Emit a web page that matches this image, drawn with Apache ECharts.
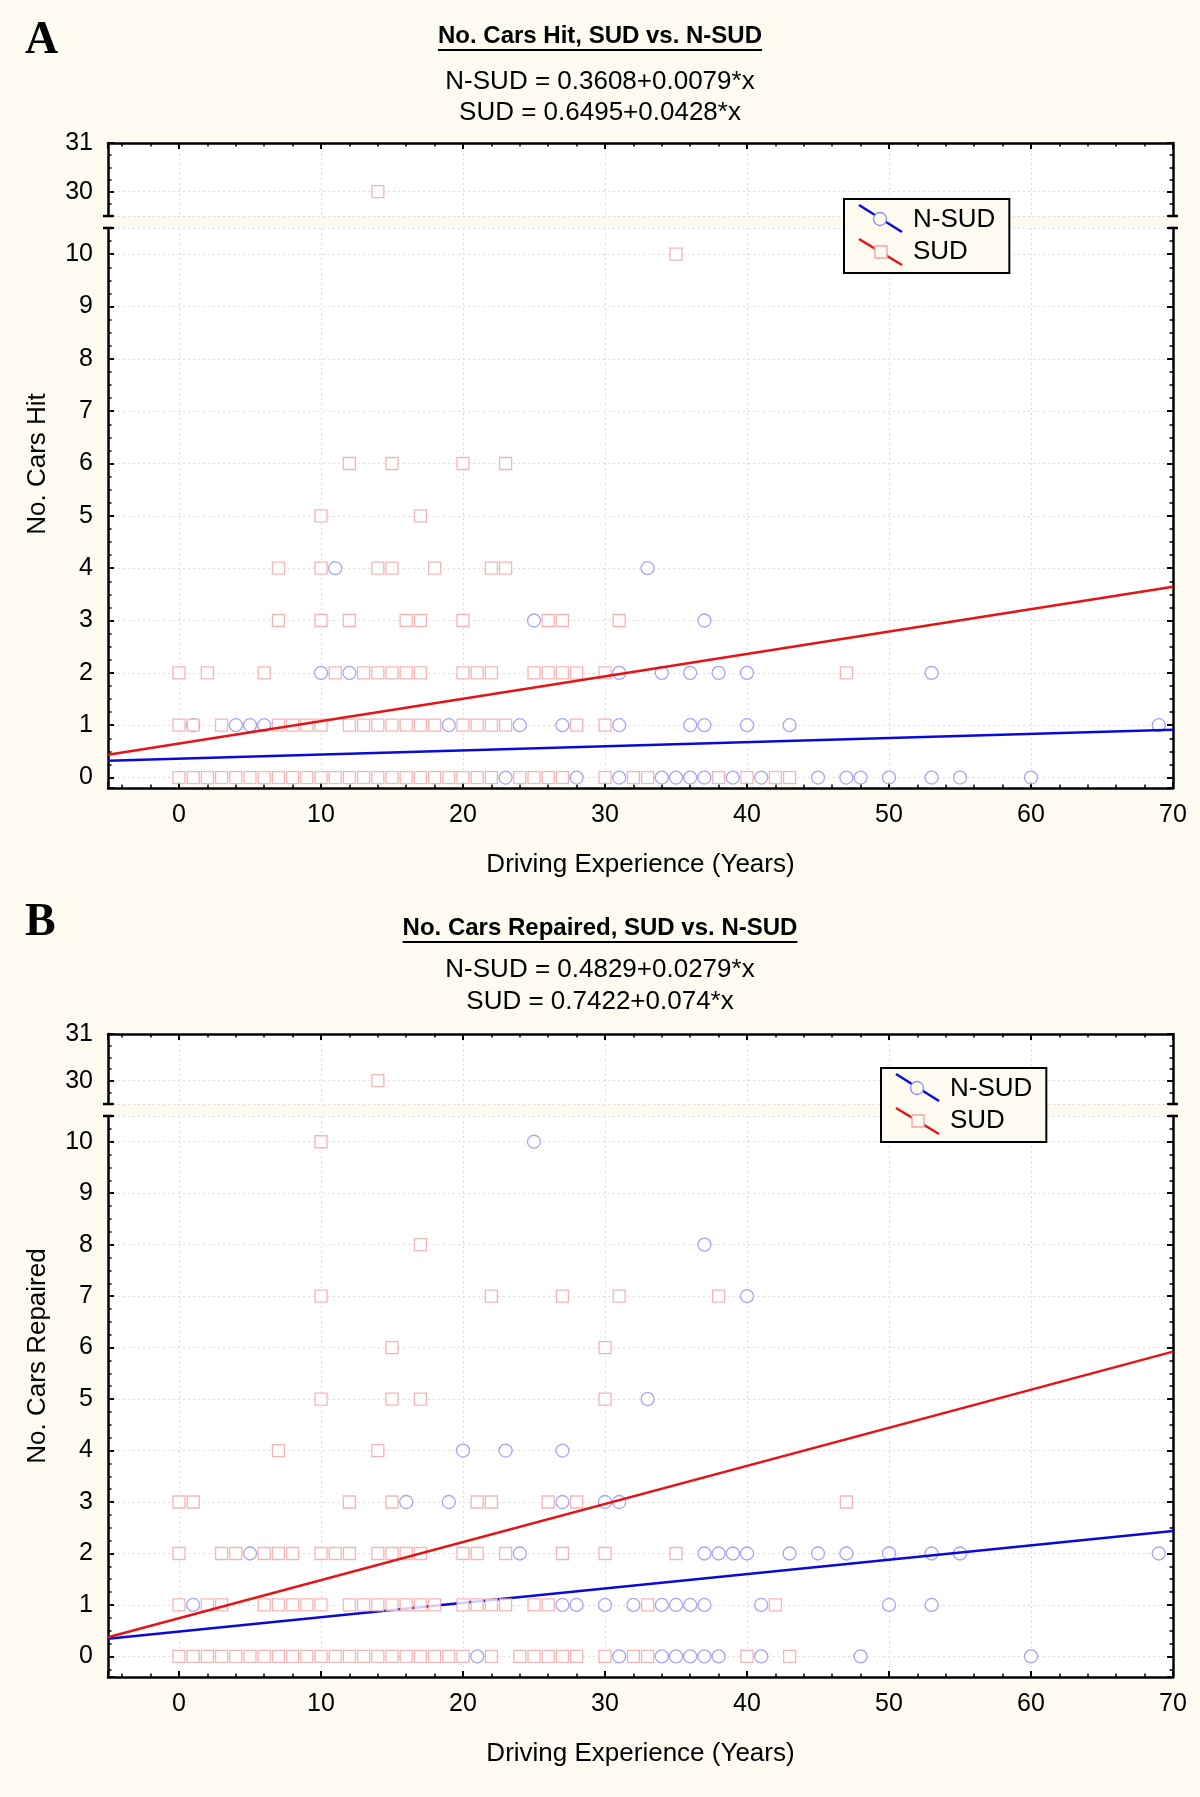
<!DOCTYPE html>
<html><head><meta charset="utf-8">
<script src="https://cdn.jsdelivr.net/npm/echarts@6/dist/echarts.min.js"></script>
<style>html,body{margin:0;padding:0;background:#fdfaf0}#chart{width:1200px;height:1797px}</style>
</head><body><div id="chart"></div>
<script>
// ================= DATA =================
const panelLetters = ['A', 'B'];
const panelTitles = ['No. Cars Hit, SUD vs. N-SUD', 'No. Cars Repaired, SUD vs. N-SUD'];
const yTitles = ['No. Cars Hit', 'No. Cars Repaired'];
const xTitle = 'Driving Experience (Years)';
const seriesNames = ['N-SUD', 'SUD'];
const hitEquations = ['N-SUD = 0.3608+0.0079*x', 'SUD = 0.6495+0.0428*x'];
const repEquations = ['N-SUD = 0.4829+0.0279*x', 'SUD = 0.7422+0.074*x'];
// regression coefficients [intercept, slope]
const hitFitNSUD = [0.3608, 0.0079];
const hitFitSUD = [0.6495, 0.0428];
const repFitNSUD = [0.4829, 0.0279];
const repFitSUD = [0.7422, 0.074];
const xRange = [-5, 70];

// rows: [y value, [driving experience years...]]
const hitSUD = [
  [0, [0,1,2,3,4,5,6,7,8,9,10,11,12,13,14,15,16,17,18,19,20,21,22,24,25,26,27,30,32,33,38,40,42,43]],
  [1, [0,1,3,7,8,9,10,12,13,14,15,16,17,18,20,21,22,23,28,30]],
  [2, [0,2,6,11,13,14,15,16,17,20,21,22,25,26,27,28,30,47]],
  [3, [7,10,12,16,17,20,26,27,31]],
  [4, [7,10,14,15,18,22,23]],
  [5, [10,17]],
  [6, [12,15,20,23]],
  [10, [35]],
  [30, [14]]
];
const hitNSUD = [
  [0, [23,28,31,34,35,36,37,39,41,45,47,48,50,53,55,60]],
  [1, [1,4,5,6,19,24,27,31,36,37,40,43,69]],
  [2, [10,12,31,34,36,38,40,53]],
  [3, [25,37]],
  [4, [11,33]]
];
const repSUD = [
  [0, [0,1,2,3,4,5,6,7,8,9,10,11,12,13,14,15,16,17,18,19,20,22,24,25,26,27,28,30,32,33,40,43]],
  [1, [0,2,3,6,7,8,9,10,12,13,14,15,16,17,18,20,21,22,23,25,26,33,42]],
  [2, [0,3,4,6,7,8,10,11,12,14,15,16,17,20,21,23,27,30,35]],
  [3, [0,1,12,15,21,22,26,28,47]],
  [4, [7,14]],
  [5, [10,15,17,30]],
  [6, [15,30]],
  [7, [10,22,27,31,38]],
  [8, [17]],
  [10, [10]],
  [30, [14]]
];
const repNSUD = [
  [0, [21,31,34,35,36,37,38,41,48,60]],
  [1, [1,27,28,30,32,34,35,36,37,41,50,53]],
  [2, [5,24,37,38,39,40,43,45,47,50,53,55,69]],
  [3, [16,19,27,30,31]],
  [4, [20,23,27]],
  [5, [33]],
  [7, [40]],
  [8, [37]],
  [10, [25]]
];

// ================= LAYOUT / STYLE =================
const CREAM = '#fdfaf0';
const FONT = "'Liberation Sans', Arial, sans-serif";
const BLUE = '#0a0ad8', RED = '#e41414';
const SQ = '#f0a4a4', CI = '#8e8ef0';
const TICK_FS = 25, TEXT_FS = 26;

const layouts = [
  {letterY: 41, titleY: 38, eqY: [84, 115], upperTop: 143, upperH: 73, lowerTop: 228, lowerH: 560, lowerMin: -0.2, yTitleY: 464, legend: [844, 199]},
  {letterY: 923, titleY: 930, eqY: [972, 1004], upperTop: 1034, upperH: 70, lowerTop: 1116, lowerH: 561, lowerMin: -0.4, yTitleY: 1356, legend: [881, 1068]}
];
const panelData = [
  {sud: hitSUD, nsud: hitNSUD, fitS: hitFitSUD, fitN: hitFitNSUD, eq: hitEquations},
  {sud: repSUD, nsud: repNSUD, fitS: repFitSUD, fitN: repFitNSUD, eq: repEquations}
];

const expand = rows => rows.flatMap(([y, xs]) => xs.map(x => [x, y]));
const fitLine = c => [[xRange[0], c[0] + c[1] * xRange[0]], [xRange[1], c[0] + c[1] * xRange[1]]];

const measure = (() => {
  const ctx = document.createElement('canvas').getContext('2d');
  return (txt, font) => { ctx.font = font; return ctx.measureText(txt).width; };
})();

const GRID_LEFT = 108, GRID_RIGHT = 27;
const axisLine = (sym) => ({show: true, onZero: false, symbol: sym, symbolSize: [10, 2.5], lineStyle: {color: '#000', width: 2.5}});
const tick = {show: true, inside: true, length: 6, lineStyle: {color: '#000', width: 2}};
const splitDot = {show: true, lineStyle: {color: '#dcdcdc', width: 1, type: [2, 3]}};

const grids = [], xAxes = [], yAxes = [], series = [], titles = [], graphics = [], legends = [];

layouts.forEach((L, p) => {
  const D = panelData[p];
  const gU = grids.length, gL = gU + 1;
  grids.push({left: GRID_LEFT, right: GRID_RIGHT, top: L.upperTop, height: L.upperH, show: true, backgroundColor: '#fff', borderWidth: 0, outerBoundsMode: 'none'});
  grids.push({left: GRID_LEFT, right: GRID_RIGHT, top: L.lowerTop, height: L.lowerH, show: true, backgroundColor: '#fff', borderWidth: 0, outerBoundsMode: 'none'});

  const xU = xAxes.length, xL = xU + 1;
  const xCommon = {type: 'value', min: xRange[0], max: xRange[1], minInterval: 10, maxInterval: 10, splitNumber: 8,
    axisTick: tick, minorTick: {show: true, splitNumber: 5, length: 3.5, lineStyle: {color: '#000', width: 1.5}}, splitLine: splitDot};
  xAxes.push(Object.assign({}, xCommon, {gridIndex: gU, position: 'top', axisLine: axisLine(['none', 'none']), axisLabel: {show: false}}));
  xAxes.push(Object.assign({}, xCommon, {gridIndex: gL, position: 'bottom', axisLine: axisLine(['none', 'none']),
    axisLabel: {show: true, margin: 15, fontSize: TICK_FS, color: '#000', fontFamily: FONT, showMinLabel: false, showMaxLabel: true},
    name: xTitle, nameLocation: 'middle', nameGap: 64, nameTextStyle: {fontSize: TEXT_FS, color: '#000', fontFamily: FONT}}));

  const yIdx = yAxes.length;
  const yAx = (grid, min, max, pos, isUpper) => ({
    type: 'value', gridIndex: grid, min, max, position: pos, minInterval: 1, maxInterval: 1, splitNumber: 10,
    axisLine: axisLine(isUpper ? ['rect', 'none'] : ['none', 'rect']),
    axisTick: tick, minorTick: {show: true, splitNumber: 4, length: 3.5, lineStyle: {color: '#000', width: 1.5}},
    axisLabel: {show: pos === 'left', margin: 15, fontSize: TICK_FS, color: '#000', fontFamily: FONT, showMinLabel: false, showMaxLabel: isUpper},
    splitLine: Object.assign({}, splitDot, {show: pos === 'left'})
  });
  yAxes.push(yAx(gU, 29.5, 31, 'left', true));
  yAxes.push(yAx(gU, 29.5, 31, 'right', true));
  yAxes.push(yAx(gL, L.lowerMin, 10.5, 'left', false));
  yAxes.push(yAx(gL, L.lowerMin, 10.5, 'right', false));

  const nPts = expand(D.nsud), sPts = expand(D.sud);
  const mk = (name, pts, upper, z) => ({
    type: 'scatter', name, xAxisIndex: upper ? xU : xL, yAxisIndex: upper ? yIdx : yIdx + 2,
    data: pts.filter(q => upper ? q[1] >= 20 : q[1] < 20), z,
    symbol: name === 'SUD' ? 'rect' : 'circle', symbolSize: name === 'SUD' ? 12 : 13, silent: true,
    itemStyle: {color: '#fff', borderColor: name === 'SUD' ? SQ : CI, borderWidth: 1.3}
  });
  const ln = (name, c, color, z) => ({type: 'line', name, xAxisIndex: xL, yAxisIndex: yIdx + 2, data: fitLine(c), z,
    symbol: 'none', silent: true, lineStyle: {color, width: 2.5}, itemStyle: {color}});
  series.push(mk('N-SUD', nPts, false, 2), mk('N-SUD', nPts, true, 2), ln('N-SUD', D.fitN, BLUE, 3),
              mk('SUD', sPts, false, 4), mk('SUD', sPts, true, 4), ln('SUD', D.fitS, RED, 5));

  // titles
  const tFont = 24;
  titles.push({text: panelTitles[p], left: 'center', top: L.titleY - 14, padding: 0,
    textStyle: {fontSize: tFont, fontWeight: 'bold', fontFamily: FONT, color: '#000'}});
  titles.push({text: D.eq[0], left: 'center', top: L.eqY[0] - 15, padding: 0, textStyle: {fontSize: TEXT_FS, fontWeight: 'normal', fontFamily: FONT, color: '#000'}});
  titles.push({text: D.eq[1], left: 'center', top: L.eqY[1] - 15, padding: 0, textStyle: {fontSize: TEXT_FS, fontWeight: 'normal', fontFamily: FONT, color: '#000'}});

  const tw = measure(panelTitles[p], 'bold ' + tFont + 'px ' + FONT);
  graphics.push({type: 'line', z: 100, shape: {x1: 600 - tw / 2, y1: L.titleY + 12, x2: 600 + tw / 2, y2: L.titleY + 12}, style: {stroke: '#000', lineWidth: 2}});
  graphics.push({type: 'text', z: 100, x: 25, y: L.letterY, style: {text: panelLetters[p], font: 'bold 46px "Liberation Serif", "Times New Roman", serif', fill: '#000', verticalAlign: 'middle'}});
  graphics.push({type: 'text', z: 100, x: 38, y: L.yTitleY, rotation: Math.PI / 2, style: {text: yTitles[p], font: TEXT_FS + 'px ' + FONT, fill: '#000', align: 'center', verticalAlign: 'middle'}});

  // legend
  const [lx, ly] = L.legend;
  legends.push({data: seriesNames, orient: 'vertical', left: lx, top: ly, icon: 'none', itemWidth: 50, itemHeight: 30, itemGap: 2,
    padding: [6, 14, 6, 14], borderColor: '#000', borderWidth: 2, backgroundColor: CREAM, selectedMode: false,
    textStyle: {fontSize: TEXT_FS, lineHeight: 30, color: '#000', fontFamily: FONT}});
  graphics.push(
    {type: 'line', z: 100, shape: {x1: lx + 15, y1: ly + 6, x2: lx + 58, y2: ly + 33}, style: {stroke: BLUE, lineWidth: 2.5}},
    {type: 'circle', z: 101, shape: {cx: lx + 36, cy: ly + 20, r: 6.5}, style: {fill: CREAM, stroke: CI, lineWidth: 1.3}},
    {type: 'line', z: 100, shape: {x1: lx + 15, y1: ly + 40, x2: lx + 58, y2: ly + 66}, style: {stroke: RED, lineWidth: 2.5}},
    {type: 'rect', z: 101, shape: {x: lx + 31, y: ly + 47, width: 12, height: 12}, style: {fill: CREAM, stroke: SQ, lineWidth: 1.3}}
  );
});

const chart = echarts.init(document.getElementById('chart'), null, {renderer: 'canvas'});
chart.setOption({
  backgroundColor: CREAM,
  animation: false,
  title: titles,
  legend: legends,
  grid: grids,
  xAxis: xAxes,
  yAxis: yAxes,
  series: series,
  graphic: graphics
});
</script></body></html>
